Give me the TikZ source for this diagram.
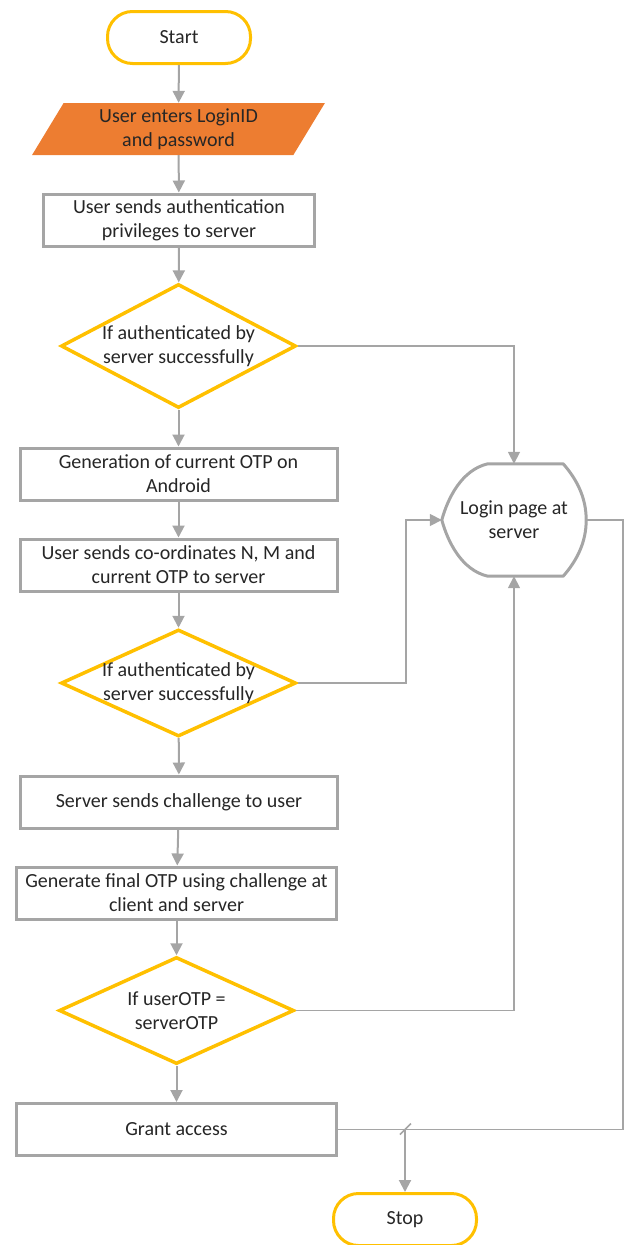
\documentclass[tikz,border=0pt]{standalone}
\usepackage{fontspec}
\setmainfont{Carlito}
\usetikzlibrary{shapes.geometric, arrows.meta, calc}
\definecolor{flowgray}{HTML}{A5A5A5}
\definecolor{flowyellow}{HTML}{FFC000}
\definecolor{floworange}{HTML}{ED7D31}
\definecolor{txtdark}{HTML}{262626}
\begin{document}
\begin{tikzpicture}[x=1pt, y=-1pt,
	every node/.style={font=\fontsize{20}{24}\selectfont, text=txtdark, align=center},
	terminal/.style={draw=flowyellow, line width=3pt, fill=white, rounded corners=25pt, minimum width=143pt, minimum height=52pt},
	inputbox/.style={trapezium, trapezium left angle=62, trapezium right angle=118, trapezium stretches=true, fill=floworange, minimum width=293pt, minimum height=52pt, inner sep=0pt},
	process/.style={draw=flowgray, line width=3pt, fill=white, minimum height=52pt},
	decision/.style={diamond, draw=flowyellow, line width=3.5pt, fill=white, inner sep=0pt, minimum width=235pt, minimum height=107pt},
	flow/.style={draw=flowgray, line width=2pt, -{Triangle[width=12pt, length=12pt]}},
	link/.style={draw=flowgray, line width=1.7pt}]
	\useasboundingbox (0,0) rectangle (624,1245);

	% 1. main column
	\node[terminal] (start) at (179,37.5) {Start};
	\node[inputbox] (enter) at (178.5,129) {User enters LoginID\\and password};
	\node[process, minimum width=271pt] (sendpriv) at (179,220) {User sends authentication\\privileges to server};
	\node[decision, minimum height=124pt, label={center:If authenticated by\\server successfully}] (auth1) at (178.5,346) {};
	\node[process, minimum width=317pt] (otpgen) at (178.5,474) {Generation of current OTP on\\Android};
	\node[process, minimum width=317pt] (sendotp) at (178.5,565) {User sends co-ordinates N, M and\\current OTP to server};
	\node[decision, label={center:If authenticated by\\server successfully}] (auth2) at (178.5,683) {};
	\node[process, minimum width=317pt] (challenge) at (179,802) {Server sends challenge to user};
	\node[process, minimum width=320pt] (finalotp) at (176.5,893) {Generate final OTP using challenge at\\client and server};
	\node[decision, label={center:If userOTP =\\serverOTP}] (otpcheck) at (176.5,1010.5) {};
	\node[process, minimum width=320pt] (grant) at (176.5,1129.5) {Grant access};
	\node[terminal] (stop) at (405,1219.5) {Stop};

	% 2. login page (display shape)
	\node[minimum width=144pt, minimum height=112pt] (login) at (514,520) {Login page at\\server};
	\draw[draw=flowgray, line width=3pt, line join=round]
		($(login.north west)+(46,0)$) -- ($(login.north east)+(-23,0)$)
		.. controls +(14,16) and +(0,-22) .. (login.east)
		.. controls +(0,22) and +(14,-16) .. ($(login.south east)+(-23,0)$)
		-- ($(login.south west)+(46,0)$)
		.. controls +(-26,-6) and +(6,22) .. (login.west)
		.. controls +(6,-22) and +(-26,6) .. ($(login.north west)+(46,0)$) -- cycle;

	% 3. connectors down the column
	\draw[flow] (start) -- (enter);
	\draw[flow] (enter) -- (sendpriv);
	\draw[flow] (sendpriv) -- (auth1);
	\draw[flow] (auth1) -- (otpgen);
	\draw[flow] (otpgen) -- (sendotp);
	\draw[flow] (sendotp) -- (auth2);
	\draw[flow] (auth2) -- (challenge);
	\draw[flow] (challenge) -- (finalotp);
	\draw[flow] (finalotp) -- (otpcheck);
	\draw[flow] (otpcheck) -- (grant);

	% 4. failure routes to the login page
	\draw[flow, line width=1.7pt] (auth1.east) -| (login.north);
	\draw[flow, line width=1.7pt] (auth2.east) -- ++(108,0) |- (login.west);
	\draw[flow, line width=1.7pt] (otpcheck.east) -| (login.south);

	% 5. routes to stop
	\coordinate (merge) at (stop.north |- grant.east);
	\draw[link] (grant.east) -- (merge);
	\draw[link] (login.east) -- ++(37,0) |- (merge);
	\draw[link] ($(merge)+(-5,5)$) -- ($(merge)+(6,-6)$);
	\draw[flow] (merge) -- (stop.north);
\end{tikzpicture}
\end{document}
